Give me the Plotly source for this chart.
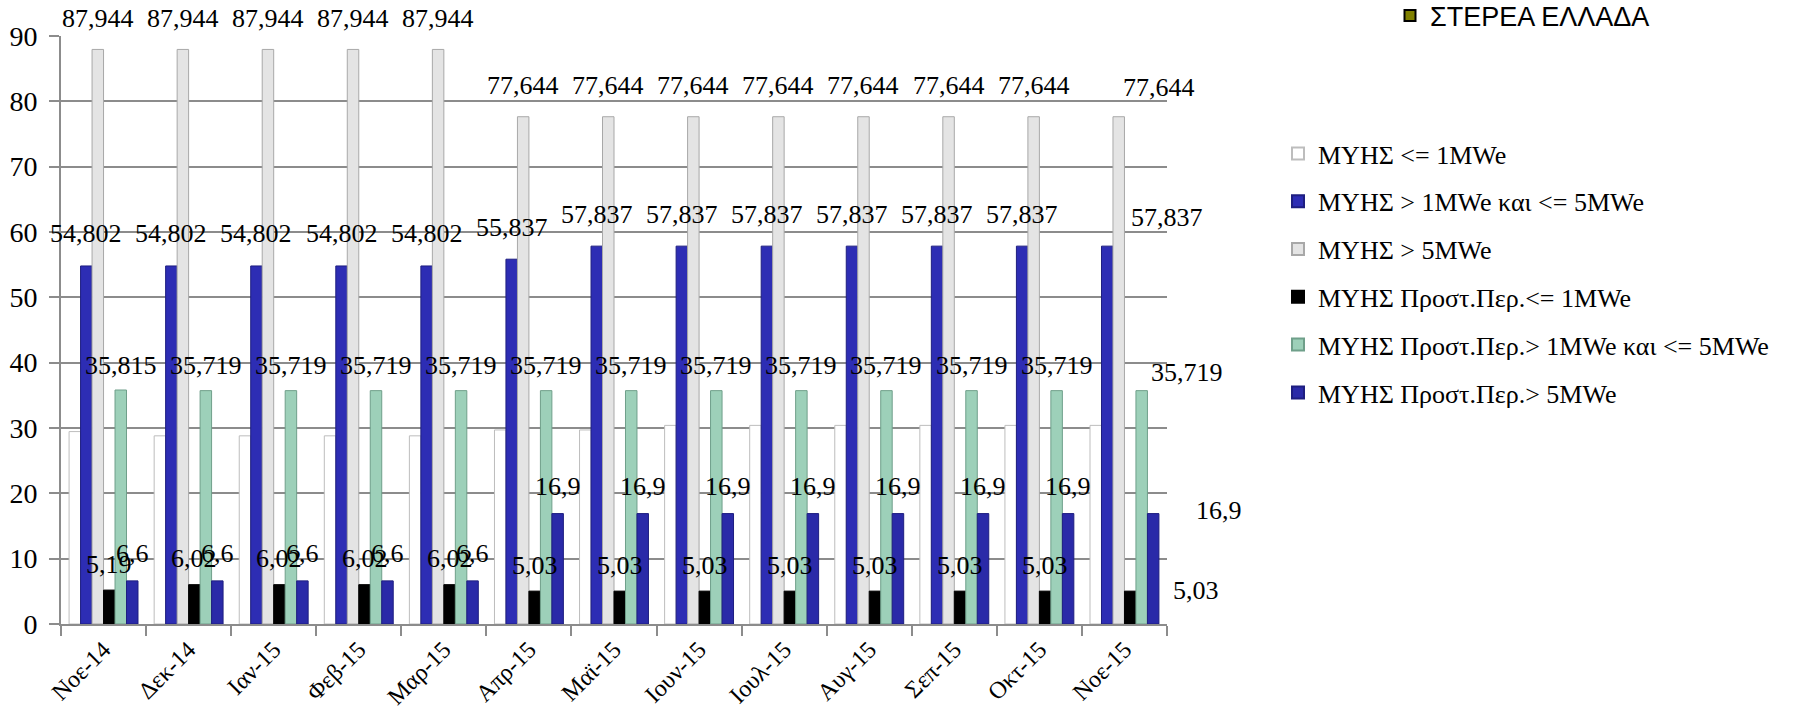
import plotly.graph_objects as go

# ---------------- data ----------------
categories = ["Νοε-14", "Δεκ-14", "Ιαν-15", "Φεβ-15", "Μαρ-15", "Απρ-15", "Μαϊ-15",
              "Ιουν-15", "Ιουλ-15", "Αυγ-15", "Σεπ-15", "Οκτ-15", "Νοε-15"]

name_s1 = "ΜΥΗΣ <= 1MWe"
name_s2 = "ΜΥΗΣ > 1MWe και <= 5MWe"
name_s3 = "ΜΥΗΣ > 5MWe"
name_s4 = "ΜΥΗΣ Προστ.Περ.<= 1MWe"
name_s5 = "ΜΥΗΣ Προστ.Περ.> 1MWe και <= 5MWe"
name_s6 = "ΜΥΗΣ Προστ.Περ.> 5MWe"
legend2_name = "ΣΤΕΡΕΑ ΕΛΛΑΔΑ"

s1 = [29.45, 28.8, 28.8, 28.8, 28.8, 29.7, 29.7, 30.4, 30.4, 30.4, 30.4, 30.4, 30.4]
s2 = [54.802, 54.802, 54.802, 54.802, 54.802, 55.837, 57.837, 57.837, 57.837, 57.837, 57.837, 57.837, 57.837]
s3 = [87.944, 87.944, 87.944, 87.944, 87.944, 77.644, 77.644, 77.644, 77.644, 77.644, 77.644, 77.644, 77.644]
s4 = [5.19, 6.02, 6.02, 6.02, 6.02, 5.03, 5.03, 5.03, 5.03, 5.03, 5.03, 5.03, 5.03]
s5 = [35.815, 35.719, 35.719, 35.719, 35.719, 35.719, 35.719, 35.719, 35.719, 35.719, 35.719, 35.719, 35.719]
s6 = [6.6, 6.6, 6.6, 6.6, 6.6, 16.9, 16.9, 16.9, 16.9, 16.9, 16.9, 16.9, 16.9]

y_ticks = [0, 10, 20, 30, 40, 50, 60, 70, 80, 90]

# ---------------- style ----------------
SERIF = "Liberation Serif"
SANS_N = "Liberation Sans Narrow, Liberation Sans"
GRID = "#8c8c8c"

series = [
    (name_s1, s1, "#ffffff", "#bdbdbd", False),
    (name_s2, s2, "#2d2db4", "#1e1e80", True),
    (name_s3, s3, "#e4e4e4", "#a8a8a8", True),
    (name_s4, s4, "#000000", "#000000", True),
    (name_s5, s5, "#9dd0b9", "#6f9f8a", True),
    (name_s6, s6, "#2a2aa8", "#1e1e80", True),
]

BARGAP = 0.19
n_series = len(series)
bw = (1 - BARGAP) / n_series  # width of one bar in category units

fig = go.Figure()
for k, (nm, vals, col, lcol, _) in enumerate(series):
    fig.add_trace(go.Bar(
        x=categories, y=vals, name=nm,
        marker=dict(color=col, line=dict(color=lcol, width=1)),
        legendgroup=f"g{k}",
        hoverinfo="x+y+name",
    ))

# dummy entry for the second legend
fig.add_trace(go.Scatter(
    x=[categories[0]], y=[None], mode="markers", name=legend2_name,
    marker=dict(symbol="square", size=11, color="#808000", line=dict(color="#000000", width=2)),
    legend="legend2", hoverinfo="skip",
))

# ---------------- data labels ----------------
label_yshift = {1: 32, 2: 31, 3: 26, 4: 25, 5: 27}
last_shift = {1: (60, -3), 2: (40, -2), 3: (66, -25), 4: (45, -7), 5: (66, -24)}

annotations = []
for k, (nm, vals, col, lcol, labeled) in enumerate(series):
    if not labeled:
        continue
    for i, v in enumerate(vals):
        xpos = i + (k - (n_series - 1) / 2) * bw
        dx, dy = (0, 0)
        if i == len(vals) - 1:
            dx, dy = last_shift[k]
        annotations.append(dict(
            x=xpos, y=v, xref="x", yref="y",
            text=f"{v}".replace(".", ","),
            showarrow=False, xanchor="center", yanchor="middle",
            xshift=dx, yshift=label_yshift[k] + dy,
            font=dict(family=SERIF, size=26, color="#000000"),
        ))

# ---------------- layout ----------------
L, R, T, B = 61, 639, 36, 86
W, H = 1806, 710
plot_w = W - L - R
plot_h = H - T - B


def px_to_paper_x(px):
    return (px - L) / plot_w


def px_to_paper_y(py):
    return 1 - (py - T) / plot_h


fig.update_layout(
    width=W, height=H,
    margin=dict(l=L, r=R, t=T, b=B, pad=0, autoexpand=False),
    paper_bgcolor="#ffffff", plot_bgcolor="#ffffff",
    barmode="group", bargap=BARGAP, bargroupgap=0,
    font=dict(family=SERIF, size=24, color="#000000"),
    showlegend=True,
    legend=dict(
        x=px_to_paper_x(1278), xanchor="left",
        y=px_to_paper_y(130), yanchor="top",
        font=dict(family=SERIF, size=26, color="#000000"),
        tracegroupgap=11, itemsizing="constant",
        bgcolor="rgba(0,0,0,0)", borderwidth=0,
    ),
    legend2=dict(
        x=px_to_paper_x(1390), xanchor="left",
        y=px_to_paper_y(16), yanchor="middle",
        font=dict(family=SANS_N, size=27, color="#000000"),
        bgcolor="rgba(0,0,0,0)", borderwidth=0,
    ),
    annotations=annotations,
    xaxis=dict(
        type="category", categoryorder="array", categoryarray=categories,
        tickangle=-45, tickfont=dict(family=SERIF, size=24),
        ticks="outside", tickson="boundaries", ticklen=10, tickcolor=GRID, tickwidth=2,
        showline=True, linecolor=GRID, linewidth=2,
        showgrid=False, range=[-0.5, len(categories) - 0.5],
        automargin=False,
    ),
    yaxis=dict(
        range=[0, 90], tickvals=y_ticks, ticktext=[str(t) for t in y_ticks],
        tickfont=dict(family=SERIF, size=28),
        ticks="outside", ticklen=10, tickcolor=GRID, tickwidth=2,
        ticklabelstandoff=6,
        showline=True, linecolor=GRID, linewidth=2,
        showgrid=True, gridcolor=GRID, gridwidth=2,
        zeroline=False, automargin=False,
    ),
)

fig.write_html("out.html", config={"displayModeBar": False},
               post_script="document.body.style.margin='0';")
